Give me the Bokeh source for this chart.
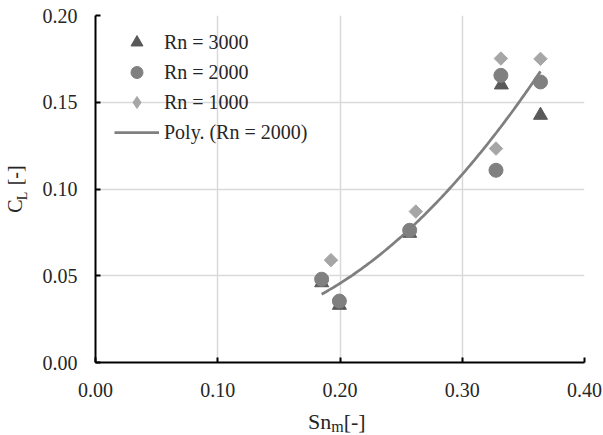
import numpy as np
from bokeh.plotting import figure
from bokeh.models import (Legend, LegendItem, NumeralTickFormatter, FixedTicker, Range1d, Div,
                          LinearAxis)
from bokeh.layouts import column
from bokeh.embed import file_html
from bokeh.resources import INLINE

# Data
x_3000 = [0.185, 0.1995, 0.257, 0.332, 0.364]
y_3000 = [0.046, 0.033, 0.0745, 0.160, 0.1425]

x_2000 = [0.185, 0.1995, 0.257, 0.3276, 0.3316, 0.364]
y_2000 = [0.048, 0.0354, 0.0762, 0.1108, 0.1655, 0.1617]

x_1000 = [0.1926, 0.262, 0.3276, 0.3316, 0.364]
y_1000 = [0.059, 0.087, 0.1233, 0.1752, 0.175]

x_ticks = [0.0, 0.1, 0.2, 0.3, 0.4]
y_ticks = [0.0, 0.05, 0.10, 0.15, 0.20]

legend_labels = ["Rn = 3000", "Rn = 2000", "Rn = 1000", "Poly. (Rn = 2000)"]

# Excel-style polynomial (order 2) trendline through the Rn = 2000 series
coef = np.polyfit(x_2000, y_2000, 2)
x_fit = np.linspace(min(x_2000), max(x_2000), 100)
y_fit = np.polyval(coef, x_fit)

FONT = "Liberation Serif"
TXT = "#262626"

p = figure(width=603, height=410, output_backend="svg", toolbar_location=None,
           x_range=Range1d(0, 0.4), y_range=Range1d(0, 0.2),
           min_border_left=94, min_border_right=19, min_border_top=15, min_border_bottom=48)
p.outline_line_color = None
p.background_fill_color = "white"

for ax, ticks in ((p.xaxis[0], x_ticks), (p.yaxis[0], y_ticks)):
    ax.ticker = FixedTicker(ticks=ticks)
    ax.formatter = NumeralTickFormatter(format="0.00")
    ax.axis_line_color = "black"
    ax.axis_line_width = 2
    ax.major_tick_line_color = "black"
    ax.major_tick_line_width = 2
    ax.major_tick_in = 5
    ax.major_tick_out = 0
    ax.minor_tick_line_color = None
    ax.major_label_text_font = FONT
    ax.major_label_text_font_size = "20px"
    ax.major_label_text_color = TXT
p.yaxis.major_label_standoff = 18
p.xaxis.major_label_standoff = 20

# y title C_L [-]: subscript "L" on the main axis, "C  [-]" on an outer, tick-less axis
ya = p.yaxis[0]
ya.axis_label = "L\u2003"
ya.axis_label_text_font = FONT
ya.axis_label_text_font_style = "normal"
ya.axis_label_text_font_size = "14px"
ya.axis_label_text_color = TXT
ya.axis_label_standoff = 10

outer = LinearAxis(ticker=FixedTicker(ticks=[]), axis_line_color=None,
                   major_tick_line_color=None, minor_tick_line_color=None,
                   axis_label="C\u2002\u2009[-]", axis_label_text_font=FONT,
                   axis_label_text_font_style="normal", axis_label_text_font_size="20px",
                   axis_label_text_color=TXT, axis_label_standoff=-14)
p.add_layout(outer, "left")

p.xgrid.ticker = FixedTicker(ticks=x_ticks)
p.ygrid.ticker = FixedTicker(ticks=y_ticks)
p.grid.grid_line_color = "#d9d9d9"
p.grid.grid_line_width = 1.5

r3 = p.scatter(x_3000, y_3000, marker="triangle", size=14, fill_color="#595959", line_color="#595959")
r2 = p.scatter(x_2000, y_2000, marker="circle", size=14, fill_color="#808080", line_color="#808080")
# small diamonds hidden beneath the rotated squares; they provide the legend swatch
r1_key = p.scatter(x_1000, y_1000, marker="diamond", size=8, fill_color="#a6a6a6", line_color="#a6a6a6")
r1 = p.scatter(x_1000, y_1000, marker="square", angle=np.pi / 4, size=9.5,
               fill_color="#a6a6a6", line_color="#a6a6a6")
rl = p.line(x_fit, y_fit, line_color="#7f7f7f", line_width=2.75)

legend = Legend(items=[LegendItem(label=legend_labels[0], renderers=[r3]),
                       LegendItem(label=legend_labels[1], renderers=[r2]),
                       LegendItem(label=legend_labels[2], renderers=[r1_key]),
                       LegendItem(label=legend_labels[3], renderers=[rl])],
                location=(19, 215), orientation="vertical",
                border_line_color=None, background_fill_alpha=0,
                padding=0, margin=0, glyph_width=45, glyph_height=30, label_height=20,
                spacing=0, label_standoff=5,
                label_text_font=FONT, label_text_font_size="20px", label_text_color=TXT)
p.add_layout(legend)

# x title: Sn_m[-]
x_title = Div(width=603, height=25, margin=(0, 0, 0, 0), text=(
    f'<div style="font-family:\'{FONT}\'; font-size:22px; color:{TXT}; white-space:nowrap; '
    'line-height:23px; padding-left:308px;">'
    'Sn<span style="font-size:16px; vertical-align:-2.5px;">m</span>[-]</div>'))

layout = column(p, x_title, spacing=0)

open("out.html", "w").write(file_html(layout, INLINE))
